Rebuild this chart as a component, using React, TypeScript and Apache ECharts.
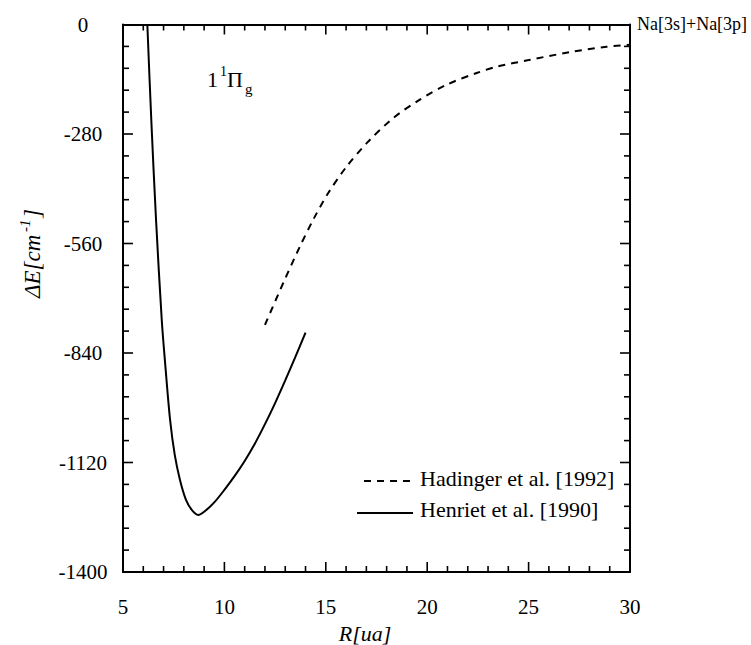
import React, { useEffect, useRef } from "react";
import * as echarts from "echarts";

const henrietR = [6.2, 6.4, 6.63, 6.91, 7.1, 7.32, 7.55, 7.81, 8.1, 8.39, 8.71, 9.0, 9.5, 10.0, 10.5, 11.0, 11.5, 12.0, 12.5, 13.0, 13.5, 14.0];
const henrietE = [0, -250, -500, -755, -880, -1010, -1100, -1165, -1215, -1241, -1254, -1246, -1222, -1190, -1155, -1116, -1072, -1022, -968, -910, -850, -788];

const hadingerR = [12.0, 12.9, 13.73, 14.38, 15.12, 16.03, 17.1, 18.33, 19.64, 20.96, 22.44, 23.5, 25.0, 27.0, 28.85, 30.0];
const hadingerE = [-768, -661, -567, -499, -431, -363, -299, -239, -192, -154, -124, -107, -91, -71, -57, -52];

const legendNames = ["Hadinger et al. [1992]", "Henriet et al. [1990]"];

const xTicks = { min: 5, max: 30, interval: 5 };
const yTicks = { min: -1400, max: 0, interval: 280 };
const xMinorStep = 1;
const yMinorStep = 56;

const FONT = "'Liberation Serif', 'Times New Roman', serif";

export default function App() {
  const ref = useRef<HTMLDivElement>(null);
  useEffect(() => {
    if (!ref.current) return;
    const chart = echarts.init(ref.current, undefined, { renderer: "svg" });
    const line = { show: true, onZero: false, lineStyle: { color: "#000", width: 2 } };
    const noTick = { show: false };

    chart.setOption({
      animation: false,
      backgroundColor: "#fff",
      grid: { left: 123, top: 24.5, right: 121, bottom: 73 },
      xAxis: [
        {
          type: "value",
          position: "bottom",
          ...xTicks,
          axisLine: line,
          axisTick: noTick,
          splitLine: { show: false },
          axisLabel: { show: true, margin: 24, color: "#000", fontSize: 21, fontFamily: FONT, formatter: (v: number) => String(v) },
        },
        {
          type: "value",
          position: "top",
          ...xTicks,
          axisLine: line,
          axisTick: noTick,
          splitLine: { show: false },
          axisLabel: { show: false },
        },
      ],
      yAxis: [
        {
          type: "value",
          position: "left",
          ...yTicks,
          axisLine: line,
          axisTick: noTick,
          splitLine: { show: false },
          axisLabel: { show: true, margin: 40, align: "center", color: "#000", fontSize: 21, fontFamily: FONT, formatter: (v: number) => String(v) },
        },
        {
          type: "value",
          position: "right",
          ...yTicks,
          axisLine: line,
          axisTick: noTick,
          splitLine: { show: false },
          axisLabel: { show: false },
        },
      ],
      series: [
        {
          name: legendNames[1],
          type: "line",
          xAxisIndex: 0,
          yAxisIndex: 0,
          data: henrietR.map((r, i) => [r, henrietE[i]]),
          showSymbol: false,
          smooth: 0.3,
          lineStyle: { color: "#000", width: 2 },
        },
        {
          name: legendNames[0],
          type: "line",
          xAxisIndex: 0,
          yAxisIndex: 0,
          data: hadingerR.map((r, i) => [r, hadingerE[i]]),
          showSymbol: false,
          smooth: 0.3,
          lineStyle: { color: "#000", width: 2, type: [7, 6] },
        },
      ],
    });

    // tick marks on all four sides, positioned through the chart's own scales
    const finder = { xAxisIndex: 0, yAxisIndex: 0 };
    const tickEls: any[] = [];
    const tickStyle = { stroke: "#000", lineWidth: 1.6 };
    const nx = Math.round((xTicks.max - xTicks.min) / xMinorStep);
    const xPer = Math.round(xTicks.interval / xMinorStep);
    for (let i = 1; i < nx; i++) {
      const v = xTicks.min + i * xMinorStep;
      const len = i % xPer === 0 ? 10 : 6;
      const b = chart.convertToPixel(finder, [v, yTicks.min]) as number[];
      const t = chart.convertToPixel(finder, [v, yTicks.max]) as number[];
      tickEls.push({ type: "line", silent: true, shape: { x1: b[0], y1: b[1], x2: b[0], y2: b[1] - len }, style: tickStyle });
      tickEls.push({ type: "line", silent: true, shape: { x1: t[0], y1: t[1], x2: t[0], y2: t[1] + len }, style: tickStyle });
    }
    const ny = Math.round((yTicks.max - yTicks.min) / yMinorStep);
    const yPer = Math.round(yTicks.interval / yMinorStep);
    for (let i = 1; i < ny; i++) {
      const v = yTicks.min + i * yMinorStep;
      const len = i % yPer === 0 ? 10 : 6;
      const l = chart.convertToPixel(finder, [xTicks.min, v]) as number[];
      const r = chart.convertToPixel(finder, [xTicks.max, v]) as number[];
      tickEls.push({ type: "line", silent: true, shape: { x1: l[0], y1: l[1], x2: l[0] + len, y2: l[1] }, style: tickStyle });
      tickEls.push({ type: "line", silent: true, shape: { x1: r[0], y1: r[1], x2: r[0] - len, y2: r[1] }, style: tickStyle });
    }

    chart.setOption({
      graphic: [
        ...tickEls,
        { type: "line", shape: { x1: 364, y1: 481, x2: 416, y2: 481 }, style: { stroke: "#000", lineWidth: 2, lineDash: [7, 6] } },
        { type: "text", x: 420, y: 478, style: { text: legendNames[0], font: `22px ${FONT}`, fill: "#000", verticalAlign: "middle", align: "left" } },
        { type: "line", shape: { x1: 357, y1: 513, x2: 413, y2: 513 }, style: { stroke: "#000", lineWidth: 2 } },
        { type: "text", x: 420, y: 509, style: { text: legendNames[1], font: `22px ${FONT}`, fill: "#000", verticalAlign: "middle", align: "left" } },
        { type: "text", x: 365, y: 633, style: { text: "R[ua]", font: `italic 22px ${FONT}`, fill: "#000", align: "center", verticalAlign: "middle" } },
        { type: "text", x: 637, y: 24, style: { text: "Na[3s]+Na[3p]", font: `18px ${FONT}`, fill: "#000", align: "left", verticalAlign: "middle" } },
        { type: "text", x: 32, y: 298, rotation: Math.PI / 2, style: { text: "ΔE[cm", font: `italic 23px ${FONT}`, fill: "#000", align: "left", verticalAlign: "middle" } },
        { type: "text", x: 25, y: 232, rotation: Math.PI / 2, style: { text: "-1", font: `italic 15px ${FONT}`, fill: "#000", align: "left", verticalAlign: "middle" } },
        { type: "text", x: 32, y: 218, rotation: Math.PI / 2, style: { text: "]", font: `italic 23px ${FONT}`, fill: "#000", align: "left", verticalAlign: "middle" } },
        { type: "text", x: 207, y: 79, style: { text: "1", font: `22px ${FONT}`, fill: "#000", align: "left", verticalAlign: "middle" } },
        { type: "text", x: 220, y: 71, style: { text: "1", font: `14px ${FONT}`, fill: "#000", align: "left", verticalAlign: "middle" } },
        { type: "text", x: 227, y: 79, style: { text: "Π", font: `22px ${FONT}`, fill: "#000", align: "left", verticalAlign: "middle" } },
        { type: "text", x: 245, y: 89, style: { text: "g", font: `15px ${FONT}`, fill: "#000", align: "left", verticalAlign: "middle" } },
      ],
    });
    return () => chart.dispose();
  }, []);
  return <div ref={ref} style={{ position: "fixed", left: 0, top: 0, width: 751, height: 645, background: "#fff" }} />;
}
